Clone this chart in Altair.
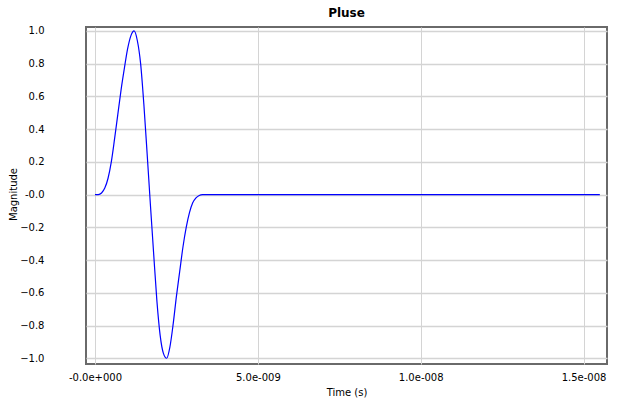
import altair as alt
import pandas as pd

# Pulse waveform samples (time in nanoseconds, normalised magnitude)
time_ns = [0.0, 0.1, 0.2, 0.3, 0.4, 0.5, 0.6, 0.7, 0.8, 0.9,
           1.0, 1.1, 1.2, 1.3, 1.4, 1.5, 1.6, 1.7, 1.8, 1.9,
           2.0, 2.1, 2.2, 2.3, 2.4, 2.5, 2.6, 2.7, 2.8, 2.9,
           3.0, 3.1, 3.2, 3.3, 15.5]
magnitude = [0.0, 0.0, 0.01, 0.04, 0.10, 0.20, 0.34, 0.49, 0.64, 0.77,
             0.89, 0.97, 1.0, 0.94, 0.80, 0.55, 0.25, -0.06, -0.36, -0.65,
             -0.86, -0.97, -1.0, -0.93, -0.79, -0.62, -0.47, -0.32, -0.20, -0.11,
             -0.05, -0.02, -0.005, 0.0, 0.0]

# Axis ticks and their printed labels
x_ticks = [0, 5, 10, 15]
x_tick_labels = ["-0.0e+000", "5.0e-009", "1.0e-008", "1.5e-008"]
y_ticks = [-1.0, -0.8, -0.6, -0.4, -0.2, 0.0, 0.2, 0.4, 0.6, 0.8, 1.0]

df = pd.DataFrame({"t": time_ns, "m": magnitude})

x_label_expr = " : ".join(
    f"datum.value == {v} ? '{lab}'" for v, lab in zip(x_ticks, x_tick_labels)
) + " : ''"
y_label_expr = "abs(datum.value) < 1e-9 ? '-0.0' : format(datum.value, '.1f')"

FONT = "DejaVu Sans"
GRID = "#d4d4d4"

chart = (
    alt.Chart(df)
    .mark_line(color="#0000ff", strokeWidth=1.2, clip=True, interpolate="monotone")
    .encode(
        x=alt.X(
            "t:Q",
            scale=alt.Scale(domain=[-0.277, 15.72], nice=False, zero=False),
            axis=alt.Axis(
                title="Time (s)",
                values=x_ticks,
                labelExpr=x_label_expr,
                ticks=False,
                domain=False,
                grid=True,
                gridColor=GRID,
                gridWidth=1,
                labelFont=FONT,
                labelFontSize=10,
                labelColor="#000000",
                labelPadding=8,
                labelFlush=False,
                titleFont=FONT,
                titleFontSize=10,
                titleFontWeight="normal",
                titleColor="#000000",
                titlePadding=5,
            ),
        ),
        y=alt.Y(
            "m:Q",
            scale=alt.Scale(domain=[-1.035, 1.024], nice=False, zero=False),
            axis=alt.Axis(
                title="Magnitude",
                values=y_ticks,
                labelExpr=y_label_expr,
                ticks=False,
                domain=False,
                grid=True,
                gridColor=GRID,
                gridWidth=1.3,
                labelFont=FONT,
                labelFontSize=10,
                labelColor="#000000",
                labelPadding=42,
                labelFlush=False,
                titleFont=FONT,
                titleFontSize=10,
                titleFontWeight="normal",
                titleColor="#000000",
                titleX=-68,
                titleY=167,
            ),
        ),
    )
    .properties(
        width=521,
        height=337,
        padding={"left": 86, "top": 27, "right": 14, "bottom": 37},
        autosize="none",
        title=alt.TitleParams(
            "Pluse",
            font=FONT,
            fontSize=12,
            fontWeight="bold",
            color="#000000",
            anchor="middle",
            offset=6,
        ),
        background="#ffffff",
    )
    .configure_view(stroke="#6a6a6a", strokeWidth=2)
)

chart.save("out.html", embed_options={"renderer": "svg", "actions": False})
